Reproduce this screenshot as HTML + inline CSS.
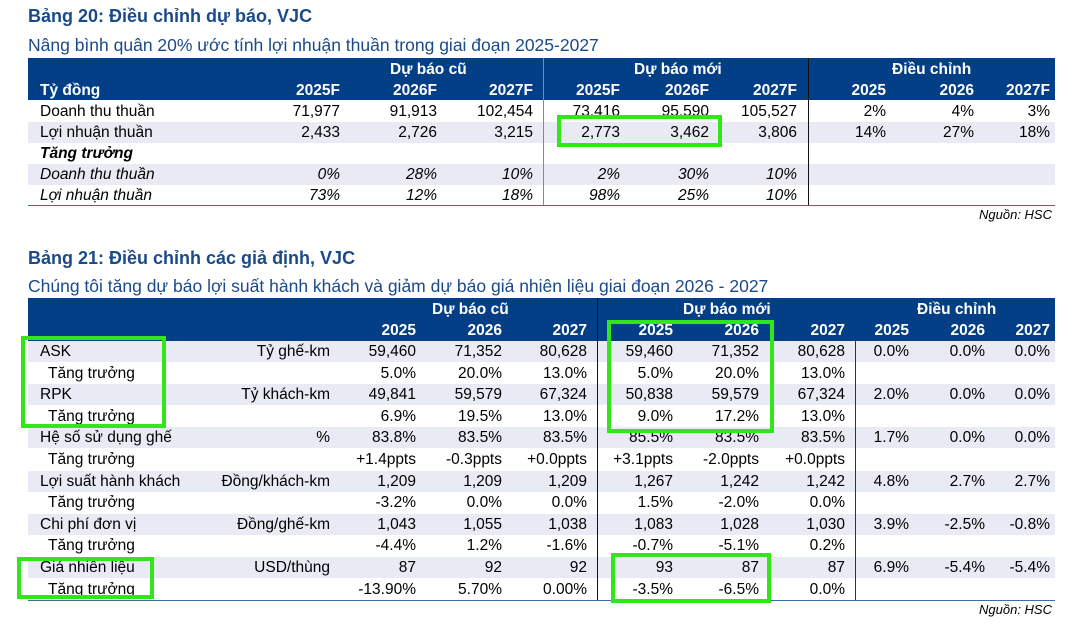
<!DOCTYPE html>
<html><head><meta charset="utf-8"><style>
body{margin:0;width:1072px;height:625px;background:#fff;position:relative;overflow:hidden;font-family:"Liberation Sans",Arial,sans-serif;color:#000}
.a{position:absolute;white-space:nowrap}
.t{font-weight:bold;font-size:18px;color:#1b4a8a}
.s{font-size:17.5px;color:#1b4a8a}
.hd{position:absolute;left:28px;width:1027px;background:#033f86}
.h{position:absolute;color:#fff;font-weight:bold;font-size:15.5px;white-space:nowrap}
.r{position:absolute;left:28px;width:1027px;height:21px;line-height:21px;font-size:15.5px}
.g{background:#e8ebf3}
.r span{position:absolute;white-space:nowrap}
.i{font-style:italic}
.src{font-style:italic;font-size:13px}
.box{position:absolute;border:4px solid #33e619;box-sizing:border-box}
</style></head><body>
<div class="a t" style="left:28px;top:6px">Bảng 20: Điều chỉnh dự báo, VJC</div>
<div class="a s" style="left:28px;top:35px">Nâng bình quân 20% ước tính lợi nhuận thuần trong giai đoạn 2025-2027</div>
<div class="hd" style="top:58px;height:42px"></div>
<div class="h" style="left:40px;top:82px">Tỷ đồng</div>
<div class="h" style="left:390px;top:61px">Dự báo cũ</div>
<div class="h" style="left:634px;top:61px">Dự báo mới</div>
<div class="h" style="left:892px;top:61px">Điều chỉnh</div>
<div class="h" style="right:732px;top:82px">2025F</div><div class="h" style="right:635px;top:82px">2026F</div><div class="h" style="right:539px;top:82px">2027F</div>
<div class="h" style="right:452px;top:82px">2025F</div><div class="h" style="right:363px;top:82px">2026F</div><div class="h" style="right:275px;top:82px">2027F</div>
<div class="h" style="right:186px;top:82px">2025</div><div class="h" style="right:98px;top:82px">2026</div><div class="h" style="right:22px;top:82px">2027F</div>
<div class="a" style="left:543px;top:58px;width:1px;height:148px;background:#888"></div>
<div class="a" style="left:808px;top:58px;width:1px;height:148px;background:#111"></div>

<div class="r" style="top:101px"><span style="left:12px">Doanh thu thuần</span><span style="right:715px">71,977</span><span style="right:618px">91,913</span><span style="right:522px">102,454</span><span style="right:435px">73,416</span><span style="right:346px">95,590</span><span style="right:258px">105,527</span><span style="right:169px">2%</span><span style="right:81px">4%</span><span style="right:5px">3%</span></div>
<div class="r g" style="top:122px"><span style="left:12px">Lợi nhuận thuần</span><span style="right:715px">2,433</span><span style="right:618px">2,726</span><span style="right:522px">3,215</span><span style="right:435px">2,773</span><span style="right:346px">3,462</span><span style="right:258px">3,806</span><span style="right:169px">14%</span><span style="right:81px">27%</span><span style="right:5px">18%</span></div>
<div class="r" style="top:143px"><span style="left:12px;font-weight:bold" class="i">Tăng trưởng</span></div>
<div class="r g i" style="top:164px"><span style="left:12px">Doanh thu thuần</span><span style="right:715px">0%</span><span style="right:618px">28%</span><span style="right:522px">10%</span><span style="right:435px">2%</span><span style="right:346px">30%</span><span style="right:258px">10%</span></div>
<div class="r i" style="top:185px"><span style="left:12px">Lợi nhuận thuần</span><span style="right:715px">73%</span><span style="right:618px">12%</span><span style="right:522px">18%</span><span style="right:435px">98%</span><span style="right:346px">25%</span><span style="right:258px">10%</span></div>
<div class="a" style="left:543px;top:101px;width:1px;height:105px;background:#888"></div>
<div class="a" style="left:808px;top:101px;width:1px;height:105px;background:#111"></div>
<div class="a" style="left:28px;top:205px;width:1027px;height:1px;background:#3a6cb0"></div>
<div class="a src" style="right:20px;top:207px">Nguồn: HSC</div>
<div class="box" style="left:557px;top:115px;width:165px;height:32px"></div>

<div class="a t" style="left:28px;top:248px">Bảng 21: Điều chỉnh các giả định, VJC</div>
<div class="a s" style="left:28px;top:276px">Chúng tôi tăng dự báo lợi suất hành khách và giảm dự báo giá nhiên liệu giai đoạn 2026 - 2027</div>
<div class="hd" style="top:298px;height:43px"></div>
<div class="h" style="left:432px;top:301px">Dự báo cũ</div>
<div class="h" style="left:683px;top:301px">Dự báo mới</div>
<div class="h" style="left:917px;top:301px">Điều chỉnh</div>
<div class="h" style="right:656px;top:322px">2025</div><div class="h" style="right:570px;top:322px">2026</div><div class="h" style="right:485px;top:322px">2027</div>
<div class="h" style="right:399px;top:322px">2025</div><div class="h" style="right:313px;top:322px">2026</div><div class="h" style="right:227px;top:322px">2027</div>
<div class="h" style="right:163px;top:322px">2025</div><div class="h" style="right:87px;top:322px">2026</div><div class="h" style="right:22px;top:322px">2027</div>
<div class="a" style="left:597px;top:298px;width:1px;height:302px;background:#111"></div>
<div class="a" style="left:855px;top:298px;width:1px;height:302px;background:#333"></div>

<div style="position:absolute;left:0;top:341px">
<div class="r g" style="top:0"><span style="left:12px">ASK</span><span style="right:725px">Tỷ ghế-km</span><span style="right:639px">59,460</span><span style="right:553px">71,352</span><span style="right:468px">80,628</span><span style="right:382px">59,460</span><span style="right:296px">71,352</span><span style="right:210px">80,628</span><span style="right:146px">0.0%</span><span style="right:70px">0.0%</span><span style="right:5px">0.0%</span></div>
<div class="r" style="top:21.6px"><span style="left:20px">Tăng trưởng</span><span style="right:639px">5.0%</span><span style="right:553px">20.0%</span><span style="right:468px">13.0%</span><span style="right:382px">5.0%</span><span style="right:296px">20.0%</span><span style="right:210px">13.0%</span></div>
<div class="r g" style="top:43.2px"><span style="left:12px">RPK</span><span style="right:725px">Tỷ khách-km</span><span style="right:639px">49,841</span><span style="right:553px">59,579</span><span style="right:468px">67,324</span><span style="right:382px">50,838</span><span style="right:296px">59,579</span><span style="right:210px">67,324</span><span style="right:146px">2.0%</span><span style="right:70px">0.0%</span><span style="right:5px">0.0%</span></div>
<div class="r" style="top:64.8px"><span style="left:20px">Tăng trưởng</span><span style="right:639px">6.9%</span><span style="right:553px">19.5%</span><span style="right:468px">13.0%</span><span style="right:382px">9.0%</span><span style="right:296px">17.2%</span><span style="right:210px">13.0%</span></div>
<div class="r g" style="top:86.4px"><span style="left:12px">Hệ số sử dụng ghế</span><span style="right:725px">%</span><span style="right:639px">83.8%</span><span style="right:553px">83.5%</span><span style="right:468px">83.5%</span><span style="right:382px">85.5%</span><span style="right:296px">83.5%</span><span style="right:210px">83.5%</span><span style="right:146px">1.7%</span><span style="right:70px">0.0%</span><span style="right:5px">0.0%</span></div>
<div class="r" style="top:108px"><span style="left:20px">Tăng trưởng</span><span style="right:639px">+1.4ppts</span><span style="right:553px">-0.3ppts</span><span style="right:468px">+0.0ppts</span><span style="right:382px">+3.1ppts</span><span style="right:296px">-2.0ppts</span><span style="right:210px">+0.0ppts</span></div>
<div class="r g" style="top:129.6px"><span style="left:12px">Lợi suất hành khách</span><span style="right:725px">Đồng/khách-km</span><span style="right:639px">1,209</span><span style="right:553px">1,209</span><span style="right:468px">1,209</span><span style="right:382px">1,267</span><span style="right:296px">1,242</span><span style="right:210px">1,242</span><span style="right:146px">4.8%</span><span style="right:70px">2.7%</span><span style="right:5px">2.7%</span></div>
<div class="r" style="top:151.2px"><span style="left:20px">Tăng trưởng</span><span style="right:639px">-3.2%</span><span style="right:553px">0.0%</span><span style="right:468px">0.0%</span><span style="right:382px">1.5%</span><span style="right:296px">-2.0%</span><span style="right:210px">0.0%</span></div>
<div class="r g" style="top:172.8px"><span style="left:12px">Chi phí đơn vị</span><span style="right:725px">Đồng/ghế-km</span><span style="right:639px">1,043</span><span style="right:553px">1,055</span><span style="right:468px">1,038</span><span style="right:382px">1,083</span><span style="right:296px">1,028</span><span style="right:210px">1,030</span><span style="right:146px">3.9%</span><span style="right:70px">-2.5%</span><span style="right:5px">-0.8%</span></div>
<div class="r" style="top:194.4px"><span style="left:20px">Tăng trưởng</span><span style="right:639px">-4.4%</span><span style="right:553px">1.2%</span><span style="right:468px">-1.6%</span><span style="right:382px">-0.7%</span><span style="right:296px">-5.1%</span><span style="right:210px">0.2%</span></div>
<div class="r g" style="top:216px"><span style="left:12px">Giá nhiên liệu</span><span style="right:725px">USD/thùng</span><span style="right:639px">87</span><span style="right:553px">92</span><span style="right:468px">92</span><span style="right:382px">93</span><span style="right:296px">87</span><span style="right:210px">87</span><span style="right:146px">6.9%</span><span style="right:70px">-5.4%</span><span style="right:5px">-5.4%</span></div>
<div class="r" style="top:237.6px"><span style="left:20px">Tăng trưởng</span><span style="right:639px">-13.90%</span><span style="right:553px">5.70%</span><span style="right:468px">0.00%</span><span style="right:382px">-3.5%</span><span style="right:296px">-6.5%</span><span style="right:210px">0.0%</span></div>
</div>
<div class="a" style="left:597px;top:341px;width:1px;height:259px;background:#111"></div>
<div class="a" style="left:855px;top:341px;width:1px;height:259px;background:#333"></div>
<div class="a" style="left:28px;top:600px;width:1027px;height:1px;background:#3a6cb0"></div>
<div class="a src" style="right:20px;top:602px">Nguồn: HSC</div>
<div class="box" style="left:21px;top:336px;width:145px;height:92px"></div>
<div class="box" style="left:17px;top:557px;width:137px;height:42px"></div>
<div class="box" style="left:607px;top:320px;width:167px;height:113px"></div>
<div class="box" style="left:611px;top:553px;width:160px;height:50px"></div>
</body></html>
